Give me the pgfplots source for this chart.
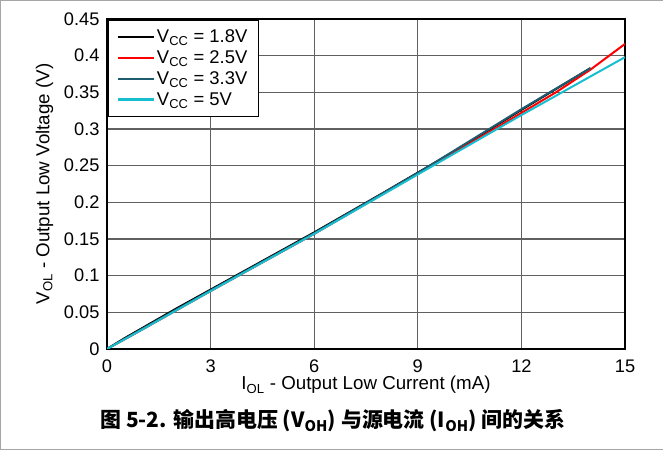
\documentclass[border=0pt]{standalone}
\usepackage{fontspec}
\setmainfont{Liberation Sans}
\newfontfamily\cjk{Noto Sans CJK SC}
\usepackage{pgfplots}
\pgfplotsset{compat=1.18}

\definecolor{vteal}{HTML}{1F5C70}
\definecolor{vcyan}{HTML}{17BED0}

\begin{document}
\begin{tikzpicture}[x=1bp,y=1bp]
\path[use as bounding box] (0,0) rectangle (663,451);
\draw[gray!70, line width=1.2bp] (663,450.4) -- (0.6,450.4) -- (0.6,1.6) -- (663,1.6);

\begin{axis}[
    at={(107bp,102bp)}, anchor=south west,
    scale only axis,
    width=518bp, height=330bp,
    xmin=0, xmax=15, ymin=0, ymax=0.45,
    xtick={0,3,...,15},
    ytick={0,0.05,...,0.45},
    yticklabels={0,0.05,0.1,0.15,0.2,0.25,0.3,0.35,0.4,0.45},
    grid=major,
    major grid style={gray!75!black, line width=1.1bp},
    axis line style={line width=2.4bp},
    major tick length=0pt,
    tick label style={font=\fontsize{18.3}{20}\selectfont},
    /pgf/number format/assume math mode=true,
    xticklabel style={yshift=-7bp},
    yticklabel style={xshift=-4bp},
    xlabel={I\textsubscript{OL} - Output Low Current (mA)},
    ylabel={V\textsubscript{OL} - Output Low Voltage (V)},
    label style={font=\fontsize{18.8}{20}\selectfont},
    xlabel style={yshift=3bp},
    ylabel style={yshift=4bp},
    legend style={at={(0,1)}, anchor=north west, draw=black, line width=1.6bp,
      font=\fontsize{18.5}{19.5}\selectfont, inner xsep=9bp, inner ysep=8bp,
      row sep=2.5bp, cells={anchor=west}},
    legend image post style={line width=2.2bp},
    legend image code/.code={\draw[#1] (0bp,0bp) -- (36bp,0bp);},
    every axis plot/.append style={line width=2bp},
]
\addplot[black] coordinates {
 (0,0) (0.5,0.0145) (1,0.028) (2,0.055) (3,0.081) (4,0.107) (6,0.159)
 (8,0.213) (10,0.268) (12,0.326) (14,0.383)
};
\addlegendentry{V\textsubscript{CC} = 1.8V}
\addplot[red] coordinates {
 (0,0) (1,0.026) (3,0.079) (6,0.157) (9,0.239) (11,0.294) (12,0.322)
 (13,0.350) (14,0.381) (15,0.416)
};
\addlegendentry{V\textsubscript{CC} = 2.5V}
\addplot[vteal] coordinates {
 (0,0) (1,0.027) (3,0.080) (6,0.158) (9,0.240) (11,0.298) (12,0.327)
 (13,0.355) (14,0.383)
};
\addlegendentry{V\textsubscript{CC} = 3.3V}
\addplot[vcyan] coordinates {
 (0,0) (1,0.026) (3,0.079) (6,0.157) (9,0.238) (12,0.319) (15,0.398)
};
\addlegendentry{V\textsubscript{CC} = 5V}
\end{axis}

\node[font=\cjk\bfseries\fontsize{21}{23}\selectfont] at (333,30)
  {图 5-2. 输出高电压 (V\textsubscript{OH}) 与源电流 (I\textsubscript{OH}) 间的关系};
\end{tikzpicture}
\end{document}
